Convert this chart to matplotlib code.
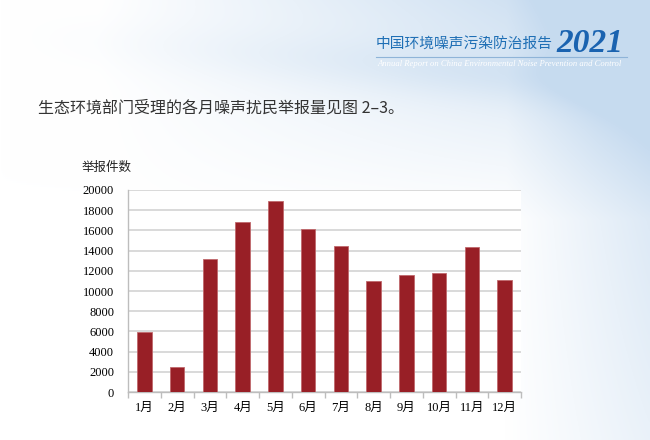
import numpy as np
import matplotlib.pyplot as plt

months = ['1月', '2月', '3月', '4月', '5月', '6月', '7月', '8月', '9月', '10月', '11月', '12月']
complaints = [5980, 2480, 13170, 16860, 18940, 16170, 14460, 11020, 11580, 11780, 14330, 11120]
yticks = [0, 2000, 4000, 6000, 8000, 10000, 12000, 14000, 16000, 18000, 20000]

serif = ['Liberation Serif', 'Noto Sans CJK SC', 'DejaVu Sans']
cjk = ['Noto Sans CJK SC', 'DejaVu Sans']
plt.rcParams['font.family'] = serif

fig = plt.figure(figsize=(6.5, 4.4), dpi=100)

# pale blue page background: top band and right edge
bg = fig.add_axes([0, 0, 1, 1], zorder=-10)
u, v = np.meshgrid(np.linspace(0, 1, 325), np.linspace(0, 1, 220))
top = np.clip((u - 0.15) * 1.3, 0, 1) * np.clip(1 - v / 0.5, 0, 1)
edge = np.clip((u - 0.78) / 0.22, 0, 1) * 0.75 * np.clip(1.1 - v * 0.6, 0, 1)
streak = 0.25 * np.exp(-((v - 0.08 - 0.12 * u) / 0.06) ** 2) * np.clip(u * 1.5, 0, 1)
f = np.clip(top + edge + streak, 0, 1)
blue = np.array([0.78, 0.86, 0.94])
img = 1 - f[..., None] * (1 - blue)
bg.imshow(img, extent=[0, 1, 0, 1], aspect='auto', interpolation='bilinear', origin='upper')
bg.set_xlim(0, 1)
bg.set_ylim(0, 1)
bg.axis('off')

# header
fig.text(376 / 650, 1 - 44 / 440, '中国环境噪声污染防治报告', family=cjk, fontsize=10.6,
         color='#1f6fb5', va='center', ha='left')
fig.text(556 / 650, 1 - 43 / 440, '2021', family=['Liberation Serif'], fontsize=24,
         style='italic', weight='bold', color='#1a63b0', va='center', ha='left')
fig.add_artist(plt.Line2D([376 / 650, 627 / 650], [1 - 57 / 440, 1 - 57 / 440],
                          color='#8fb4d8', lw=0.8))
fig.text(377 / 650, 1 - 64 / 440,
         'Annual Report on China Environmental Noise Prevention and Control',
         family=['Liberation Serif'], fontsize=6.2, style='italic', color='white',
         va='center', ha='left')

fig.text(38 / 650, 1 - 108 / 440, '生态环境部门受理的各月噪声扰民举报量见图 2\u20133。',
         family=['Noto Sans CJK SC', 'Liberation Serif'], fontsize=11.5, color='#333333',
         va='center', ha='left')

ax = fig.add_axes([128 / 650, 48 / 440, 393 / 650, 202 / 440])
ax.set_facecolor('white')
x = np.arange(len(months))
ax.bar(x, complaints, width=0.44, color='#981f26', edgecolor='#c0686c', linewidth=0.6, zorder=3)

ax.set_xlim(-0.5, len(months) - 0.5)
ax.set_ylim(0, 20000)
ax.set_yticks(yticks)
ax.set_yticklabels([str(v) for v in yticks], fontsize=9, family=serif)
ax.set_xticks(x)
ax.set_xticklabels(months, fontsize=9, family=serif)
ax.set_xticks(np.arange(-0.5, len(months)), minor=True)
ax.tick_params(axis='x', which='major', length=0, pad=7)
ax.tick_params(axis='x', which='minor', length=4, color='#bdbdbd', width=1)
ax.tick_params(axis='y', length=0, pad=10)
ax.grid(axis='y', color='#d3d3d3', lw=1.2, zorder=0)

for s in ['top', 'right']:
    ax.spines[s].set_visible(False)
ax.spines['left'].set_color('#bdbdbd')
ax.spines['bottom'].set_color('#bdbdbd')
ax.spines['left'].set_linewidth(1)
ax.spines['bottom'].set_linewidth(1)

fig.text(82 / 650, 1 - 167 / 440, '举报件数', family=cjk, fontsize=9, color='#222222',
         va='center', ha='left')

fig.savefig('out.png', dpi=100)
